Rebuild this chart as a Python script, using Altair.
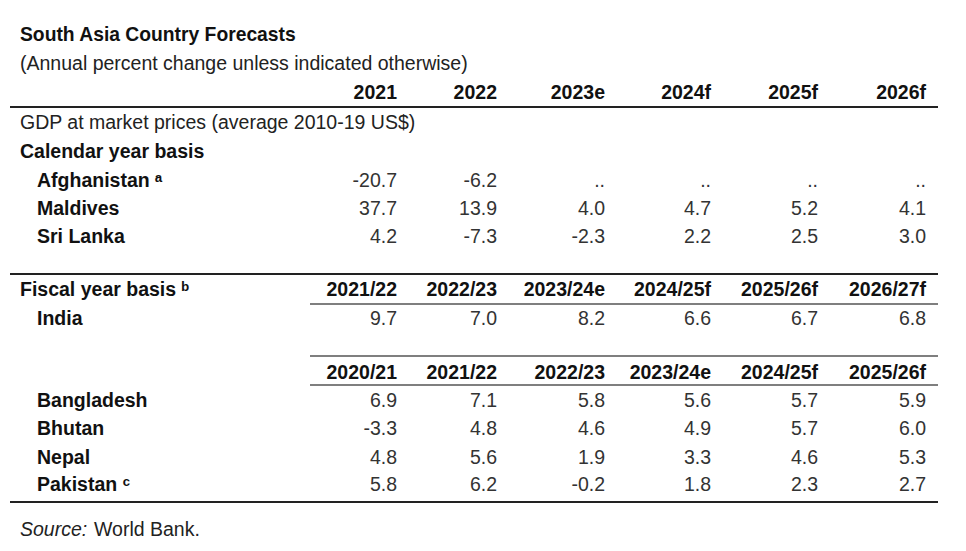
import altair as alt
import pandas as pd

# ---------------- data ----------------
title = "South Asia Country Forecasts"
subtitle = "(Annual percent change unless indicated otherwise)"
gdp_note = "GDP at market prices (average 2010-19 US$)"

cal_years = ["2021", "2022", "2023e", "2024f", "2025f", "2026f"]
afghanistan = [-20.7, -6.2, None, None, None, None]
maldives = [37.7, 13.9, 4.0, 4.7, 5.2, 4.1]
sri_lanka = [4.2, -7.3, -2.3, 2.2, 2.5, 3.0]

india_years = ["2021/22", "2022/23", "2023/24e", "2024/25f", "2025/26f", "2026/27f"]
india = [9.7, 7.0, 8.2, 6.6, 6.7, 6.8]

other_years = ["2020/21", "2021/22", "2022/23", "2023/24e", "2024/25f", "2025/26f"]
bangladesh = [6.9, 7.1, 5.8, 5.6, 5.7, 5.9]
bhutan = [-3.3, 4.8, 4.6, 4.9, 5.7, 6.0]
nepal = [4.8, 5.6, 1.9, 3.3, 4.6, 5.3]
pakistan = [5.8, 6.2, -0.2, 1.8, 2.3, 2.7]

# ---------------- layout (pixel positions of table grid) ----------------
col_right = [397, 497, 605, 711, 818, 926]
x_section = 20
x_country = 37
line_left, line_mid, line_right = 10, 310, 938


def fmt(v):
    return ".." if v is None else f"{v:.1f}"


cells = []


def add(x, y, text, kind):
    cells.append({"x": x, "y": y, "text": text, "kind": kind})


add(x_section, 35, title, "title")
add(x_section, 64, subtitle, "left")
for i, c in enumerate(cal_years):
    add(col_right[i], 93, c, "head")
add(x_section, 123, gdp_note, "left")
add(x_section, 152, "Calendar year basis", "bold")
for y, name, vals in [(181, "Afghanistan ᵃ", afghanistan),
                      (209, "Maldives", maldives),
                      (237, "Sri Lanka", sri_lanka)]:
    add(x_country, y, name, "bold")
    for i, v in enumerate(vals):
        add(col_right[i], y, fmt(v), "num")
add(x_section, 290, "Fiscal year basis ᵇ", "bold")
for i, c in enumerate(india_years):
    add(col_right[i], 290, c, "head")
add(x_country, 319, "India", "bold")
for i, v in enumerate(india):
    add(col_right[i], 319, fmt(v), "num")
for i, c in enumerate(other_years):
    add(col_right[i], 373, c, "head")
for y, name, vals in [(401, "Bangladesh", bangladesh),
                      (429, "Bhutan", bhutan),
                      (458, "Nepal", nepal),
                      (485, "Pakistan ᶜ", pakistan)]:
    add(x_country, y, name, "bold")
    for i, v in enumerate(vals):
        add(col_right[i], y, fmt(v), "num")
add(x_section, 530, "Source:", "italic")
add(94, 530, "World Bank.", "left")

df = pd.DataFrame(cells)

lines = pd.DataFrame([
    {"x": line_left, "x2": line_right, "y": 107, "w": 2.2, "c": "#222222"},
    {"x": line_left, "x2": line_right, "y": 274, "w": 2.2, "c": "#222222"},
    {"x": line_mid, "x2": line_right, "y": 304, "w": 1.4, "c": "#555555"},
    {"x": line_mid, "x2": line_right, "y": 356, "w": 1.4, "c": "#555555"},
    {"x": line_mid, "x2": line_right, "y": 385, "w": 1.4, "c": "#555555"},
    {"x": line_left, "x2": line_right, "y": 502, "w": 2.2, "c": "#222222"},
])

W, H = 950, 535
xs = alt.Scale(domain=[8, 8 + W], range=[0, W])
ys = alt.Scale(domain=[8, 8 + H], range=[0, H])
X = alt.X("x:Q", scale=xs, axis=None)
Y = alt.Y("y:Q", scale=ys, axis=None)

FONT = "Liberation Sans"
FS = 19.5
base = alt.Chart(df).encode(x=X, y=Y, text="text:N")


def layer(kind, **kw):
    props = dict(font=FONT, fontSize=FS, baseline="middle")
    props.update(kw)
    return base.transform_filter(alt.datum.kind == kind).mark_text(**props)


rule = alt.Chart(lines).mark_rule().encode(
    x=X, x2="x2:Q", y=Y,
    strokeWidth=alt.StrokeWidth("w:Q", scale=None),
    color=alt.Color("c:N", scale=None),
)

chart = alt.layer(
    rule,
    layer("title", align="left", fontWeight="bold", color="#111111", fontSize=19.3),
    layer("left", align="left", color="#222222"),
    layer("bold", align="left", fontWeight="bold", color="#111111"),
    layer("head", align="right", fontWeight="bold", color="#111111"),
    layer("num", align="right", color="#333333"),
    layer("italic", align="left", fontStyle="italic", color="#222222"),
).properties(
    width=W, height=H, padding=0, autosize=alt.AutoSizeParams(type="none"),
    background="white",
).configure_view(stroke=None)

chart.save("out.html", embed_options={"renderer": "svg", "actions": False})
